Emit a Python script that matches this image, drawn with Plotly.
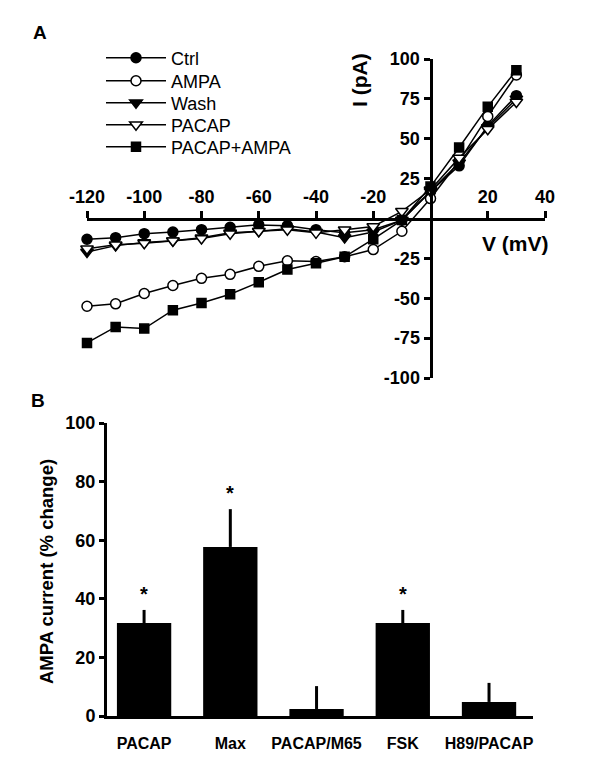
import plotly.graph_objects as go

# ---------- Panel A data (I-V curves) ----------
voltage = [-120, -110, -100, -90, -80, -70, -60, -50, -40, -30, -20, -10, 0, 10, 20, 30]
ctrl = [-13, -12, -9.5, -8.5, -7, -5.5, -4, -4.5, -7, -9, -7, -1, 17, 33, 58, 77]
ampa = [-55, -53.5, -47, -42, -37.5, -35, -30, -26.5, -27, -24, -19.5, -8, 12.5, 36, 64, 90]
wash = [-21, -17, -15, -14, -12, -9, -8, -6.5, -8.5, -12, -8.5, -1, 17, 35, 57, 75]
pacap = [-19, -16.5, -15.5, -14, -12.5, -9.5, -8, -7, -9, -7, -5, 4.5, 18, 38, 56, 73]
pacap_ampa = [-78, -68, -69, -57.5, -53, -47.5, -40, -32, -28, -24, -13, -1, 20, 44.5, 70, 93]

series_names = ["Ctrl", "AMPA", "Wash", "PACAP", "PACAP+AMPA"]
series_values = [ctrl, ampa, wash, pacap, pacap_ampa]

x_ticks_a = [-120, -100, -80, -60, -40, -20, 20, 40]
y_ticks_a = [-100, -75, -50, -25, 25, 50, 75, 100]

# ---------- Panel B data (bars) ----------
bar_categories = ["PACAP", "Max", "PACAP/M65", "FSK", "H89/PACAP"]
bar_values = [31.7, 57.7, 2.4, 31.7, 4.8]
bar_errors = [4.5, 12.9, 7.8, 4.5, 6.5]
bar_stars = ["*", "*", "", "*", ""]
y_ticks_b = [0, 20, 40, 60, 80, 100]

FONT = "Liberation Sans, Arial, Helvetica, sans-serif"
# page body has an 8px margin; size the figure to fill the rest of the window
OFF = 8
W, H = 600 - OFF, 766 - OFF


def px(x):
    return (x - OFF) / W


def py(y):
    return 1 - (y - OFF) / H


marker_styles = [
    dict(symbol="circle", color="black", size=10),
    dict(symbol="circle", color="white", size=10),
    dict(symbol="triangle-down", color="black", size=11),
    dict(symbol="triangle-down", color="white", size=11),
    dict(symbol="square", color="black", size=9),
]
legend_rows = [58, 81, 103, 125, 147]

fig = go.Figure()

for i, (name, vals, ms) in enumerate(zip(series_names, series_values, marker_styles)):
    fig.add_trace(go.Scatter(
        x=voltage, y=vals, name=name, mode="lines+markers",
        line=dict(color="black", width=1.5),
        marker=dict(symbol=ms["symbol"], color=ms["color"], size=ms["size"],
                    line=dict(color="black", width=1.5)),
        xaxis="x", yaxis="y", cliponaxis=False,
        legend="legend" if i == 0 else "legend%d" % (i + 1),
    ))

fig.add_trace(go.Bar(
    x=bar_categories, y=bar_values, xaxis="x2", yaxis="y2",
    marker=dict(color="black", line=dict(width=0)),
    width=0.63, showlegend=False,
    error_y=dict(type="data", array=bar_errors, arrayminus=[0] * len(bar_errors),
                 symmetric=False, color="black", thickness=3, width=0),
))

# axes geometry
xa_dom = [px(87), px(545)]
ya_dom = [py(378), py(59)]
xa_pos = (ya_dom[0] + ya_dom[1]) / 2
ya_pos = xa_dom[0] + 0.75 * (xa_dom[1] - xa_dom[0])

tick_font = dict(family=FONT, size=18, color="black", weight="bold")

legend_layout = {}
for i, yrow in enumerate(legend_rows):
    key = "legend" if i == 0 else "legend%d" % (i + 1)
    legend_layout[key] = dict(
        x=px(101), y=py(yrow), xanchor="left", yanchor="middle",
        bgcolor="rgba(0,0,0,0)", itemwidth=60, borderwidth=0,
        font=dict(family=FONT, size=18, color="black"),
    )

fig.update_layout(
    width=W, height=H, autosize=False,
    margin=dict(l=0, r=0, t=0, b=0, pad=0, autoexpand=False),
    paper_bgcolor="white", plot_bgcolor="white",
    font=dict(family=FONT, color="black"),
    showlegend=True,
    xaxis=dict(
        domain=xa_dom, range=[-120, 40], anchor="free", position=xa_pos,
        side="top", showline=True, linecolor="black", linewidth=3,
        ticks="outside", ticklen=7, tickwidth=2.5, tickcolor="black",
        tickvals=x_ticks_a, ticktext=[str(v) for v in x_ticks_a],
        tickfont=tick_font, showgrid=False, zeroline=False, automargin=False,
    ),
    yaxis=dict(
        domain=ya_dom, range=[-100, 100], anchor="free", position=ya_pos,
        side="left", showline=True, linecolor="black", linewidth=3,
        ticks="outside", ticklen=6, tickwidth=2.5, tickcolor="black",
        tickvals=y_ticks_a, ticktext=[str(v) for v in y_ticks_a],
        tickfont=tick_font, showgrid=False, zeroline=False, automargin=False,
    ),
    xaxis2=dict(
        domain=[px(107), px(533)], range=[-0.43, 4.51], anchor="y2",
        showline=True, linecolor="black", linewidth=3, ticks="",
        tickfont=dict(family=FONT, size=16, color="black", weight="bold"),
        showgrid=False, zeroline=False, ticklabelstandoff=11, automargin=False,
    ),
    yaxis2=dict(
        domain=[py(716), py(423)], range=[0, 100], anchor="x2",
        showline=True, linecolor="black", linewidth=3,
        ticks="outside", ticklen=5, tickwidth=2.5, tickcolor="black",
        tickvals=y_ticks_b, tickfont=tick_font, showgrid=False, zeroline=False,
        automargin=False,
    ),
    **legend_layout,
)


def label(text, x, y, size, angle=0):
    return dict(text=text, x=px(x), y=py(y), xref="paper", yref="paper",
                xanchor="center", yanchor="middle", textangle=angle,
                showarrow=False, font=dict(family=FONT, size=size, color="black"))


annotations = [
    label("<b>A</b>", 40, 33, 19),
    label("<b>B</b>", 38, 400, 19),
    label("<b>I (pA)</b>", 359, 80, 21, -90),
    label("<b>V (mV)</b>", 515, 243, 21),
    label("<b>AMPA current (% change)</b>", 46, 572, 18.5, -90),
]
for cat, v, e, s in zip(bar_categories, bar_values, bar_errors, bar_stars):
    if s:
        annotations.append(dict(
            text="<b>" + s + "</b>", x=cat, y=v + e, xref="x2", yref="y2",
            xanchor="center", yanchor="middle", yshift=16, showarrow=False,
            font=dict(family=FONT, size=20, color="black"),
        ))
fig.update_layout(annotations=annotations)

fig.write_html("out.html")
